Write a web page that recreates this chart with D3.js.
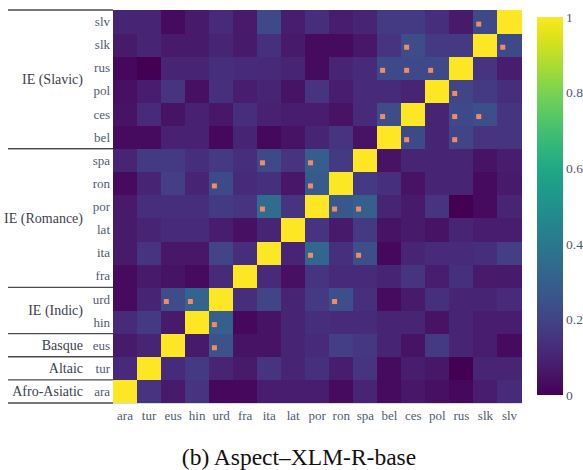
<!DOCTYPE html>
<html>
<head>
<meta charset="utf-8">
<script src="https://cdn.jsdelivr.net/npm/d3@7"></script>
<style>
  html, body { margin: 0; padding: 0; background: #fff; }
  svg { display: block; }
</style>
</head>
<body>
<svg id="chart" width="583" height="470" font-family="'Liberation Serif', Tinos, 'Times New Roman', Times, serif"></svg>
<script>
// Languages, bottom-to-top on the y axis and left-to-right on the x axis
const langs = ["ara","tur","eus","hin","urd","fra","ita","lat","por","ron","spa","bel","ces","pol","rus","slk","slv"];

// Similarity per row language (same order as langs); columns follow langs
const rowAra = [1.00,0.15,0.07,0.15,0.02,0.02,0.08,0.08,0.08,0.03,0.10,0.03,0.06,0.04,0.02,0.08,0.12];
const rowTur = [0.12,1.00,0.12,0.17,0.10,0.07,0.15,0.10,0.14,0.08,0.15,0.03,0.08,0.06,0.00,0.10,0.10];
const rowEus = [0.07,0.10,1.00,0.07,0.25,0.05,0.05,0.10,0.12,0.18,0.16,0.10,0.05,0.17,0.10,0.08,0.03];
const rowHin = [0.12,0.17,0.07,1.00,0.30,0.02,0.05,0.10,0.13,0.12,0.12,0.10,0.10,0.05,0.10,0.08,0.08];
const rowUrd = [0.03,0.10,0.23,0.32,1.00,0.13,0.20,0.10,0.17,0.24,0.14,0.03,0.07,0.14,0.10,0.10,0.12];
const rowFra = [0.03,0.07,0.05,0.03,0.12,1.00,0.12,0.04,0.15,0.12,0.12,0.10,0.15,0.08,0.14,0.07,0.07];
const rowIta = [0.07,0.15,0.06,0.06,0.20,0.13,1.00,0.10,0.33,0.14,0.24,0.02,0.10,0.12,0.12,0.13,0.18];
const rowLat = [0.07,0.10,0.12,0.12,0.08,0.04,0.10,1.00,0.15,0.07,0.17,0.05,0.07,0.05,0.10,0.08,0.08];
const rowPor = [0.07,0.13,0.13,0.13,0.17,0.15,0.35,0.15,1.00,0.27,0.30,0.10,0.07,0.15,0.00,0.03,0.10];
const rowRon = [0.03,0.10,0.18,0.10,0.22,0.12,0.14,0.06,0.28,1.00,0.17,0.14,0.05,0.10,0.10,0.03,0.07];
const rowSpa = [0.10,0.17,0.17,0.13,0.17,0.13,0.22,0.15,0.29,0.17,1.00,0.05,0.10,0.10,0.10,0.05,0.08];
const rowBel = [0.03,0.03,0.09,0.09,0.02,0.10,0.02,0.05,0.10,0.15,0.05,1.00,0.22,0.10,0.20,0.15,0.15];
const rowCes = [0.05,0.12,0.05,0.09,0.06,0.13,0.09,0.08,0.08,0.05,0.12,0.23,1.00,0.10,0.22,0.24,0.15];
const rowPol = [0.04,0.08,0.15,0.04,0.14,0.08,0.10,0.05,0.15,0.08,0.12,0.12,0.10,1.00,0.20,0.17,0.13];
const rowRus = [0.02,0.00,0.10,0.10,0.13,0.12,0.11,0.10,0.03,0.10,0.12,0.22,0.22,0.22,1.00,0.15,0.08];
const rowSlk = [0.07,0.10,0.07,0.07,0.10,0.07,0.14,0.07,0.03,0.03,0.06,0.15,0.23,0.17,0.17,1.00,0.22];
const rowSlv = [0.10,0.10,0.03,0.07,0.12,0.07,0.22,0.08,0.13,0.08,0.10,0.17,0.17,0.13,0.07,0.22,1.00];

const rows = [rowAra,rowTur,rowEus,rowHin,rowUrd,rowFra,rowIta,rowLat,rowPor,rowRon,rowSpa,rowBel,rowCes,rowPol,rowRus,rowSlk,rowSlv];

// Highlighted pairs [row language, column language]
const marked = [
  ["slv","slk"],
  ["slk","ces"],["slk","slv"],
  ["rus","bel"],["rus","ces"],["rus","pol"],
  ["pol","rus"],
  ["ces","bel"],["ces","rus"],["ces","slk"],
  ["bel","ces"],["bel","rus"],
  ["spa","ita"],["spa","por"],
  ["ron","urd"],["ron","por"],
  ["por","ita"],["por","ron"],["por","spa"],
  ["ita","por"],["ita","spa"],
  ["urd","eus"],["urd","hin"],["urd","ron"],
  ["hin","urd"],
  ["eus","urd"]
];

// Language families along the y axis (first and last member, bottom-to-top)
const groupNames = ["Afro-Asiatic","Altaic","Basque","IE (Indic)","IE (Romance)","IE (Slavic)"];
const groupFrom  = ["ara","tur","eus","hin","fra","bel"];
const groupTo    = ["ara","tur","eus","urd","spa","slv"];

const colorTicks = [0, 0.2, 0.4, 0.6, 0.8, 1];
const titleText = "(b) Aspect\u2013XLM-R-base";

const svg = d3.select("#chart");
const L = 113, R = 521.5, T = 10, B = 403;

const x = d3.scaleBand().domain(langs).range([L, R]).padding(0);
const y = d3.scaleBand().domain(langs.slice().reverse()).range([T, B]).padding(0);
const color = d3.scaleSequential(d3.interpolateViridis).domain([0, 1]);

const cells = [];
rows.forEach((r, i) => r.forEach((v, j) => cells.push({ row: langs[i], col: langs[j], v })));

svg.append("g").selectAll("rect").data(cells).join("rect")
  .attr("x", d => x(d.col))
  .attr("y", d => y(d.row))
  .attr("width", x.bandwidth() + 0.4)
  .attr("height", y.bandwidth() + 0.4)
  .attr("fill", d => color(d.v))
  .attr("shape-rendering", "crispEdges");

// Markers
const ms = 5;
svg.append("g").selectAll("rect").data(marked).join("rect")
  .attr("x", d => x(d[1]) + x.bandwidth() * 0.22 - ms / 2)
  .attr("y", d => y(d[0]) + y.bandwidth() * 0.61 - ms / 2)
  .attr("width", ms).attr("height", ms)
  .attr("fill", "#f08b68");

// Bottom edge of plot
svg.append("line").attr("x1", L).attr("x2", R).attr("y1", B + 0.5).attr("y2", B + 0.5)
  .attr("stroke", "#d8d8e0").attr("stroke-width", 1);

// Axis tick labels
const tickColor = "#4e5b70";
svg.append("g").selectAll("text").data(langs).join("text")
  .attr("x", d => x(d) + x.bandwidth() / 2)
  .attr("y", 420)
  .attr("text-anchor", "middle")
  .attr("font-size", 13)
  .attr("fill", tickColor)
  .text(d => d);

svg.append("g").selectAll("text").data(langs).join("text")
  .attr("x", 110)
  .attr("y", d => y(d) + y.bandwidth() / 2)
  .attr("dy", "0.35em")
  .attr("text-anchor", "end")
  .attr("font-size", 13)
  .attr("fill", tickColor)
  .text(d => d);

// Family brackets: separator lines and labels
const bounds = new Set();
groupFrom.forEach((f, i) => {
  bounds.add(y(f) + y.bandwidth());
  bounds.add(y(groupTo[i]));
});
svg.append("g").selectAll("line").data(Array.from(bounds)).join("line")
  .attr("x1", 8).attr("x2", L)
  .attr("y1", d => d).attr("y2", d => d)
  .attr("stroke", "#4a4a4a").attr("stroke-width", 1.3);

svg.append("g").selectAll("text").data(groupNames).join("text")
  .attr("x", 83)
  .attr("y", (d, i) => (y(groupFrom[i]) + y.bandwidth() + y(groupTo[i])) / 2)
  .attr("dy", "0.35em")
  .attr("text-anchor", "end")
  .attr("font-size", 14)
  .attr("fill", "#3d3f4c")
  .text(d => d);

// Colour bar
const cbX = 537, cbW = 26, cbT = 17, cbB = 395;
const cy = d3.scaleLinear().domain([0, 1]).range([cbB, cbT]);
const defs = svg.append("defs");
const grad = defs.append("linearGradient").attr("id", "cbar")
  .attr("x1", "0").attr("y1", "1").attr("x2", "0").attr("y2", "0");
d3.range(0, 1.0001, 0.05).forEach(t => {
  grad.append("stop").attr("offset", t).attr("stop-color", color(t));
});
svg.append("rect").attr("x", cbX).attr("y", cbT).attr("width", cbW).attr("height", cbB - cbT)
  .attr("fill", "url(#cbar)");
svg.append("g").selectAll("text").data(colorTicks).join("text")
  .attr("x", cbX + cbW + 3)
  .attr("y", d => cy(d))
  .attr("dy", "0.35em")
  .attr("font-size", 13.5)
  .attr("fill", tickColor)
  .text(d => d3.format("~g")(d));

// Caption
svg.append("text")
  .attr("x", 299).attr("y", 465)
  .attr("text-anchor", "middle")
  .attr("font-size", 23.5)
  .attr("fill", "#111")
  .text(titleText);
</script>
</body>
</html>
